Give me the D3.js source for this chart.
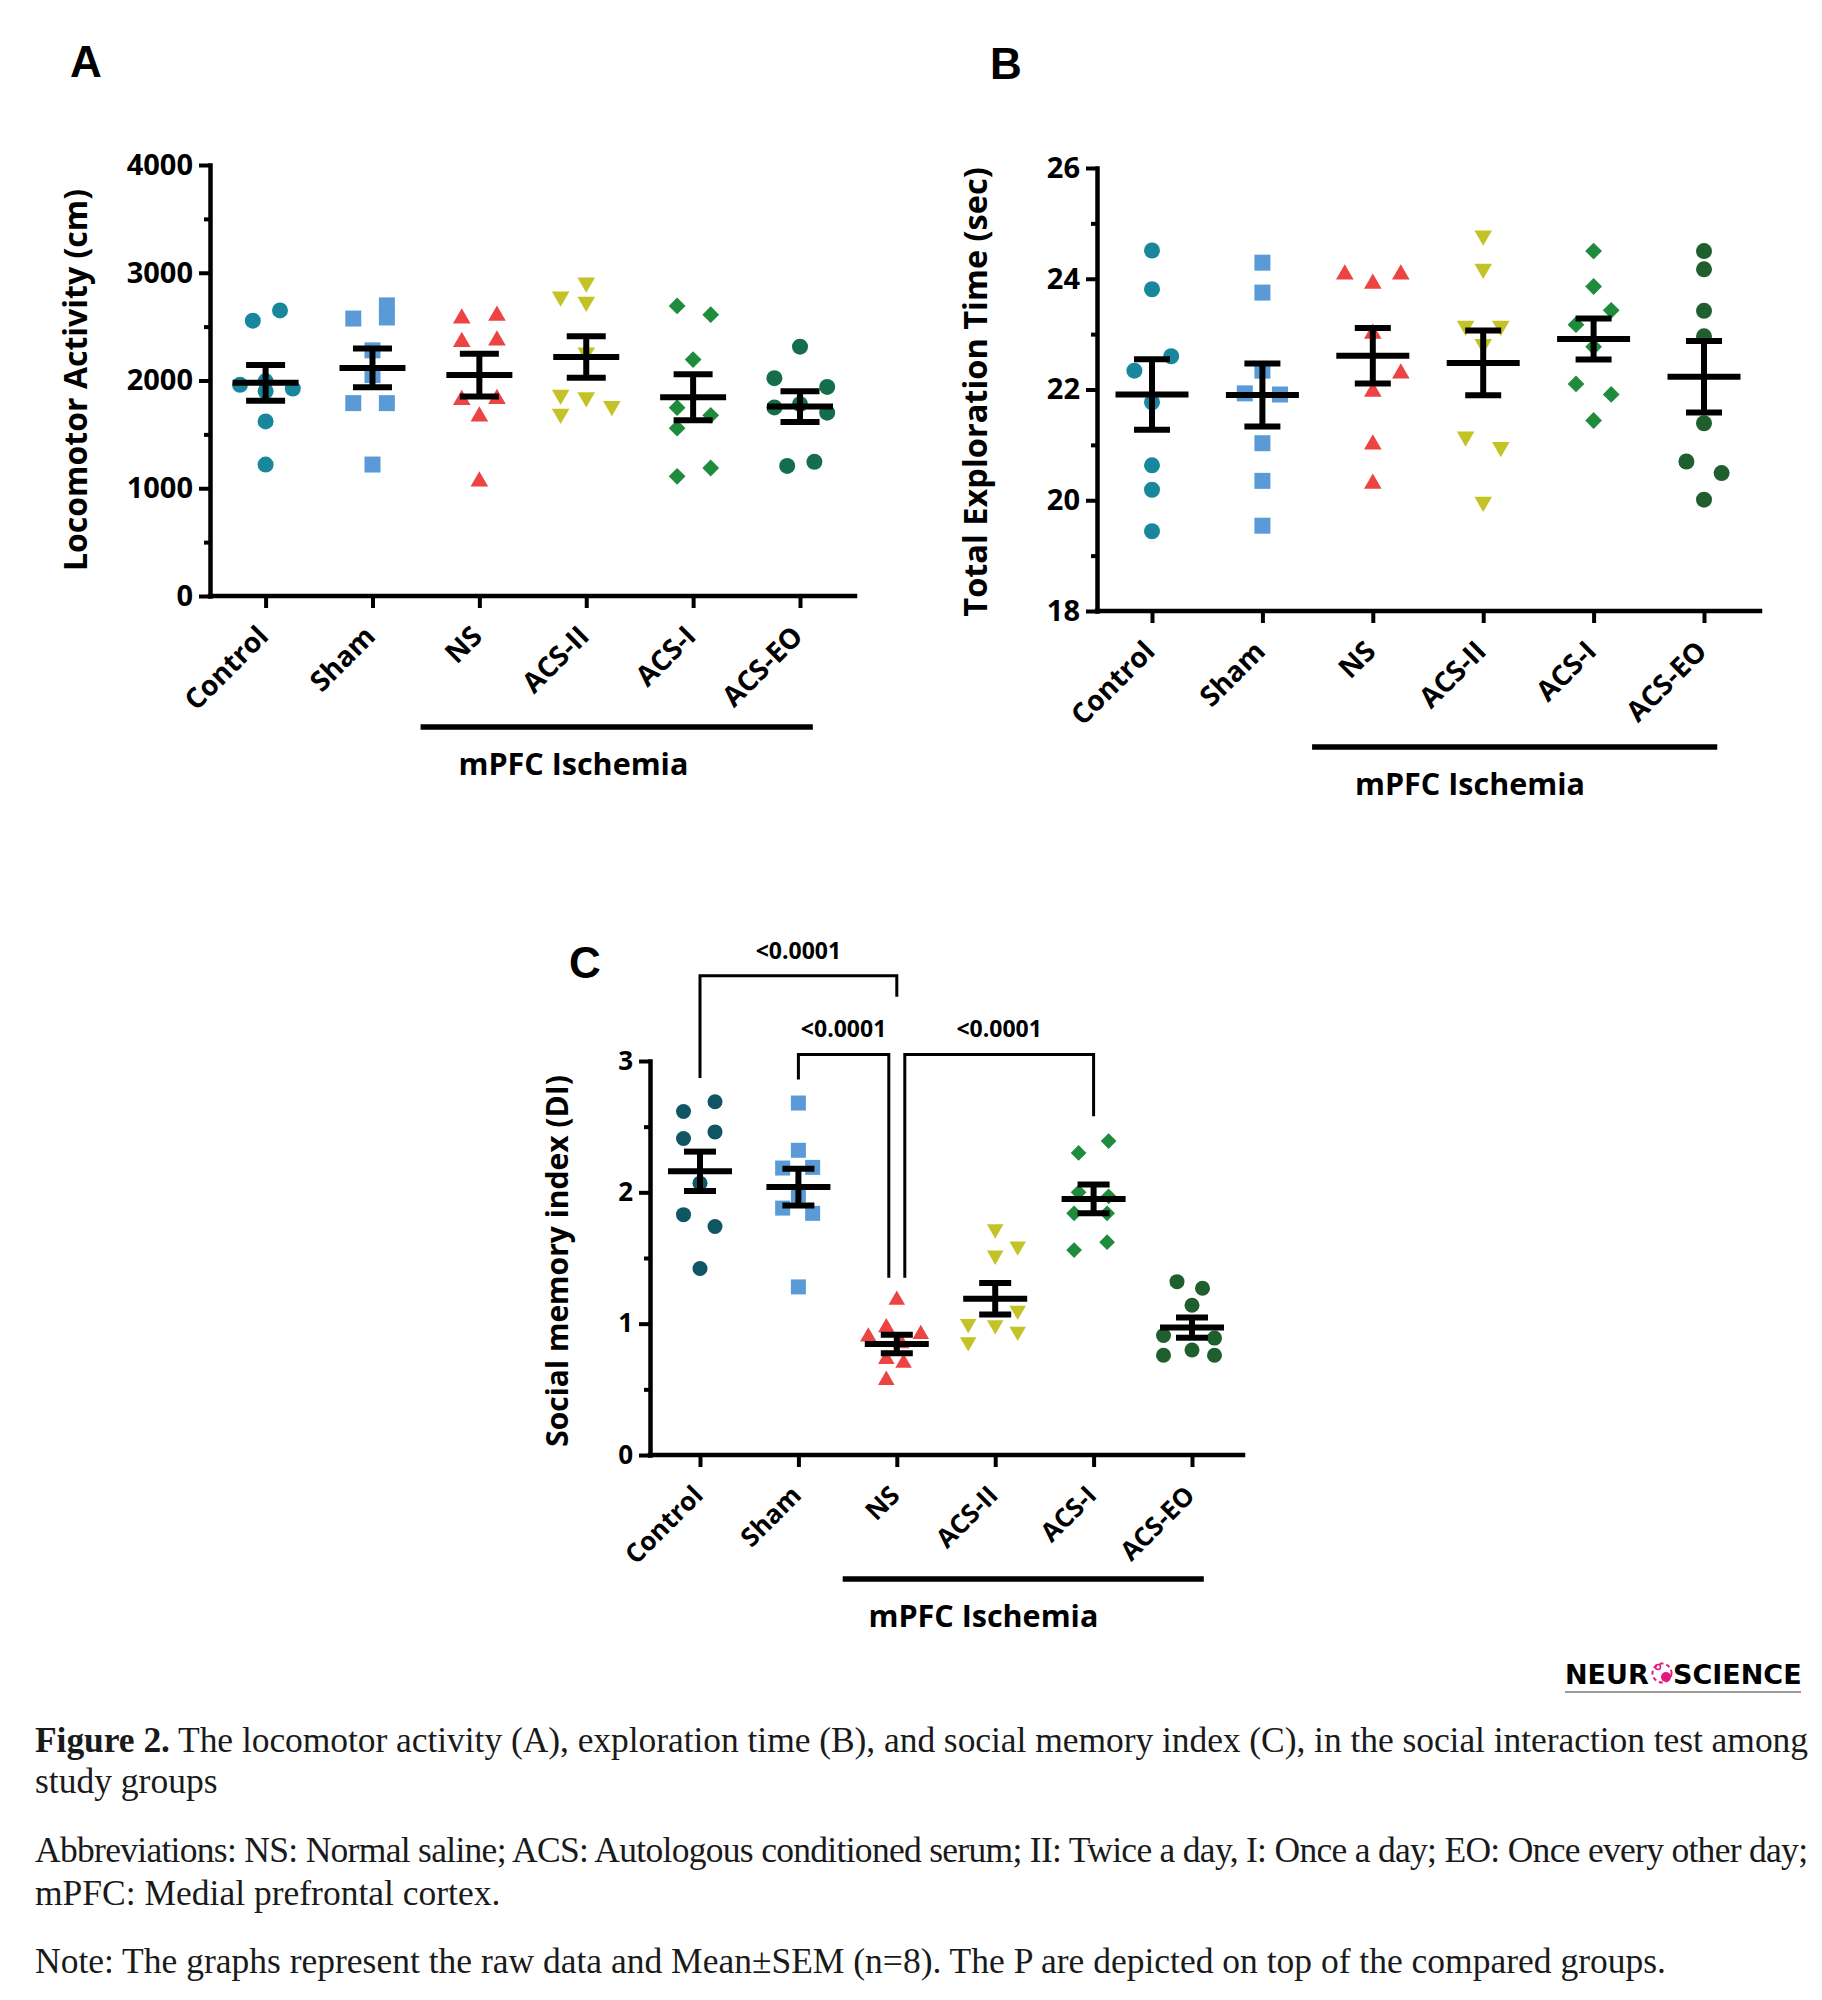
<!DOCTYPE html>
<html>
<head>
<meta charset="utf-8">
<script src="https://cdn.jsdelivr.net/npm/d3@7"></script>
<style>
  body { margin: 0; background: #fff; }
  svg { display: block; }
  .chart text { font-family: "Open Sans", sans-serif; font-weight: 700; fill: #000; }
  .letter { font-family: "Liberation Sans", Arial, sans-serif; font-weight: 700; fill: #000; }
  .caption { font-family: "Liberation Serif", serif; fill: #1a1a1a; }
</style>
</head>
<body>
<svg id="fig" width="1822" height="2000"></svg>
<script>
// groups and marker shapes (same in all three panels)
const groups = ["Control", "Sham", "NS", "ACS-II", "ACS-I", "ACS-EO"];
const markers = ["circle", "square", "triangle", "triangleDown", "diamond", "circle"];
const ischemiaGroups = ["NS", "ACS-II", "ACS-I", "ACS-EO"];

// A - locomotor activity (cm), raw points + spread (in marker widths)
const locomotorPoints = [
  [2650, 2555, 1960, 1995, 1925, 1620, 1220, 1900],
  [2697, 2585, 2575, 2280, 1790, 1790, 1220, 2050],
  [2577, 2601, 2357, 2371, 1820, 1830, 1667, 1063],
  [2778, 2908, 2730, 1868, 1844, 1690, 1763, 2260],
  [2692, 2611, 2194, 1748, 1677, 1557, 1111, 1188],
  [2314, 2022, 1940, 1750, 1701, 1780, 1207, 1245]
];
const locomotorSpread = [
  [0.9, -0.8, -1.6, 0, 1.7, 0, 0, 0],
  [0.9, 0.9, -1.2, 0, -1.2, 0.9, 0, 0],
  [-1.1, 1.1, -1.1, 1.1, -1.1, 1.1, 0, 0],
  [-1.6, 0, 0, -1.6, 0, -1.6, 1.6, 0],
  [-1, 1.1, 0, -1, 1.1, -1, -1, 1.1],
  [0, -1.6, 1.7, -1.6, 1.7, 0, -0.8, 0.9]
];
const locomotorMean = [1978, 2117, 2050, 2218, 1844, 1758];
const locomotorSem = [167, 180, 198, 192, 213, 143];
const locomotorTicks = [0, 1000, 2000, 3000, 4000];

// B - total exploration time (sec)
const explorationPoints = [
  [24.51, 23.81, 22.34, 22.60, 21.77, 20.63, 20.19, 19.44],
  [24.29, 23.75, 22.34, 21.93, 21.91, 21.03, 20.35, 19.54],
  [24.08, 23.91, 24.08, 23.01, 22.29, 21.96, 21.01, 20.30],
  [24.78, 24.18, 23.15, 23.15, 22.82, 21.15, 20.96, 19.97],
  [24.50, 23.86, 23.43, 23.17, 22.77, 22.10, 21.91, 21.44],
  [24.50, 24.17, 23.42, 22.96, 21.39, 20.70, 20.49, 20.01]
];
const explorationSpread = [
  [0, 0, -1.1, 1.2, 0, 0, 0, 0],
  [0, 0, 0, -1.1, 1.1, 0, 0, 0],
  [-1.75, 0, 1.75, 0, 1.75, 0, 0, 0],
  [0, 0, -1.1, 1.1, 0, -1.1, 1.1, 0],
  [0, 0, 1.1, -1.1, 0, -1.1, 1.1, 0],
  [0, 0, 0, 0, 0, -1.1, 1.1, 0]
];
const explorationMean = [21.91, 21.90, 22.61, 22.48, 22.91, 22.23];
const explorationSem = [0.635, 0.57, 0.50, 0.585, 0.37, 0.645];
const explorationTicks = [18, 20, 22, 24, 26];

// C - social memory index (DI)
const socialPoints = [
  [2.69, 2.615, 2.46, 2.41, 2.07, 1.83, 1.74, 1.42],
  [2.68, 2.32, 2.185, 2.19, 1.98, 1.88, 1.84, 1.28],
  [1.18, 0.97, 0.92, 0.90, 0.85, 0.73, 0.70, 0.57],
  [1.72, 1.59, 1.52, 1.10, 1.00, 0.99, 0.94, 0.86],
  [2.39, 2.30, 2.00, 1.97, 1.84, 1.84, 1.62, 1.56],
  [1.32, 1.27, 1.14, 0.91, 0.89, 0.80, 0.76, 0.76]
];
const socialSpread = [
  [1, -1.1, 1, -1.1, 0, -1.1, 1, 0],
  [0, 0, -1.05, 0.95, 0, -1.05, 0.95, 0],
  [0, -0.7, 1.6, -1.9, 0.3, -0.7, 0.45, -0.7],
  [0, 1.5, 0, 1.5, -1.8, 0, 1.5, -1.8],
  [1, -1, -1, 1, -1.3, 0.9, 0.9, -1.3],
  [-1, 0.7, 0, -1.9, 1.5, 0, -1.9, 1.5]
];
const socialMean = [2.16, 2.04, 0.845, 1.19, 1.95, 0.97];
const socialSem = [0.15, 0.14, 0.07, 0.12, 0.11, 0.077];
const socialTicks = [0, 1, 2, 3];

// pairwise comparisons shown in C (level / leg ends in DI units)
const comparisons = [
  { from: "Control", to: "NS", p: "<0.0001", level: 3.65, fromEnd: 2.87, toEnd: 3.49 },
  { from: "Sham", to: "NS", p: "<0.0001", level: 3.05, fromEnd: 2.86, toEnd: 1.35 },
  { from: "NS", to: "ACS-I", p: "<0.0001", level: 3.05, fromEnd: 1.35, toEnd: 2.58 }
];

const colorsA = ["#19879b", "#5a9bd7", "#ec4343", "#c3c328", "#1e8c3c", "#146e4b"];
const colorsB = ["#19879b", "#5a9bd7", "#ec4343", "#c3c328", "#1e8c3c", "#1e5f2d"];
const colorsC = ["#0f5564", "#5a9bd7", "#ec4343", "#c3c328", "#1e8c3c", "#1e5f2d"];

const svg = d3.select("#fig");

function markerPath(type, d) {
  if (type === "circle") return d3.symbol(d3.symbolCircle, Math.PI * d * d / 4)();
  if (type === "square") return d3.symbol(d3.symbolSquare, d * d)();
  if (type === "diamond") return d3.symbol(d3.symbolSquare, d * d * 0.55)();
  return d3.symbol(d3.symbolTriangle, 0.433 * (1.1 * d) * (1.1 * d))();
}
function markerRotate(type) {
  if (type === "triangleDown") return 180;
  if (type === "diamond") return 45;
  return 0;
}

function drawPanel(cfg) {
  const g = svg.append("g").attr("class", "chart");

  const x = d3.scalePoint().domain(groups).range([cfg.xFirst, cfg.xLast]);
  const y = d3.scaleLinear().domain(cfg.domain).range([cfg.bottom, cfg.top]);
  const step = x.step();

  // panel letter
  svg.append("text").attr("class", "letter")
    .attr("x", cfg.letterX).attr("y", cfg.letterY)
    .style("font-size", "44px").text(cfg.letter);

  // points
  const pts = [];
  cfg.points.forEach((vals, i) => vals.forEach((v, j) => pts.push({ g: groups[i], i, v, off: cfg.spread[i][j] })));
  g.append("g").selectAll("path").data(pts).join("path")
    .attr("d", d => markerPath(markers[d.i], cfg.size))
    .attr("transform", d => `translate(${x(d.g) + d.off * cfg.size},${y(d.v)}) rotate(${markerRotate(markers[d.i])})`)
    .attr("fill", d => cfg.colors[d.i]);

  // mean +/- SEM
  const eb = g.append("g").attr("stroke", "#000").attr("stroke-width", 6)
    .selectAll("g").data(groups).join("g");
  eb.append("line")
    .attr("x1", d => x(d)).attr("x2", d => x(d))
    .attr("y1", (d, i) => y(cfg.mean[i] + cfg.sem[i]))
    .attr("y2", (d, i) => y(cfg.mean[i] - cfg.sem[i]));
  eb.append("line")
    .attr("x1", d => x(d) - cfg.capHalf).attr("x2", d => x(d) + cfg.capHalf)
    .attr("y1", (d, i) => y(cfg.mean[i] + cfg.sem[i])).attr("y2", (d, i) => y(cfg.mean[i] + cfg.sem[i]));
  eb.append("line")
    .attr("x1", d => x(d) - cfg.capHalf).attr("x2", d => x(d) + cfg.capHalf)
    .attr("y1", (d, i) => y(cfg.mean[i] - cfg.sem[i])).attr("y2", (d, i) => y(cfg.mean[i] - cfg.sem[i]));
  eb.append("line")
    .attr("x1", d => x(d) - cfg.meanHalf).attr("x2", d => x(d) + cfg.meanHalf)
    .attr("y1", (d, i) => y(cfg.mean[i])).attr("y2", (d, i) => y(cfg.mean[i]));

  // y axis
  const yAxis = g.append("g").attr("transform", `translate(${cfg.left},0)`)
    .call(d3.axisLeft(y).tickValues(cfg.ticks).tickFormat(d3.format("d"))
      .tickSize(11).tickPadding(6).tickSizeOuter(0));
  yAxis.attr("font-family", null).attr("font-size", null);
  yAxis.select(".domain").attr("stroke-width", 4.5).attr("stroke-linecap", "square");
  yAxis.selectAll(".tick line").attr("stroke-width", 4);
  yAxis.selectAll("text").style("font-size", cfg.tickFont + "px");

  const minor = d3.pairs(cfg.ticks).map(p => (p[0] + p[1]) / 2);
  const yMinor = g.append("g").attr("transform", `translate(${cfg.left},0)`)
    .call(d3.axisLeft(y).tickValues(minor).tickSize(6).tickFormat(""));
  yMinor.select(".domain").remove();
  yMinor.selectAll("line").attr("stroke-width", 4);

  // x axis
  g.append("line")
    .attr("x1", cfg.left).attr("x2", cfg.right)
    .attr("y1", cfg.bottom).attr("y2", cfg.bottom)
    .attr("stroke", "#000").attr("stroke-width", 4.5).attr("stroke-linecap", "square");
  const xAxis = g.append("g").attr("transform", `translate(0,${cfg.bottom})`)
    .call(d3.axisBottom(x).tickSize(12).tickSizeOuter(0));
  xAxis.attr("font-family", null).attr("font-size", null);
  xAxis.select(".domain").remove();
  xAxis.selectAll(".tick line").attr("stroke-width", 4);
  xAxis.selectAll("text")
    .attr("x", 0).attr("y", 0).attr("dy", 0)
    .attr("text-anchor", "end")
    .attr("transform", `translate(4,42) rotate(-45)`)
    .style("font-size", cfg.catFont + "px");

  // y title
  g.append("text")
    .attr("transform", `translate(${cfg.titleX},${cfg.titleY}) rotate(-90)`)
    .attr("text-anchor", "middle")
    .style("font-size", cfg.titleFont + "px")
    .text(cfg.title);

  // mPFC ischemia grouping bar
  const first = ischemiaGroups[0], last = ischemiaGroups[ischemiaGroups.length - 1];
  g.append("line")
    .attr("x1", x(first) - 0.55 * step).attr("x2", x(last) + 0.12 * step)
    .attr("y1", cfg.bottom + cfg.barGap).attr("y2", cfg.bottom + cfg.barGap)
    .attr("stroke", "#000").attr("stroke-width", 5.5);
  g.append("text")
    .attr("x", x(first) + 0.88 * step).attr("y", cfg.bottom + cfg.barGap + 48)
    .attr("text-anchor", "middle")
    .style("font-size", "30.5px")
    .text("mPFC Ischemia");

  return { g, x, y };
}

drawPanel({
  letter: "A", letterX: 70, letterY: 77,
  points: locomotorPoints, spread: locomotorSpread, mean: locomotorMean, sem: locomotorSem,
  colors: colorsA, domain: [0, 4000], ticks: locomotorTicks,
  left: 210, right: 855, top: 165, bottom: 596, xFirst: 265.6, xLast: 800,
  size: 16, meanHalf: 33, capHalf: 19.5, tickFont: 29, catFont: 28,
  title: "Locomotor Activity (cm)", titleX: 87, titleY: 380, titleFont: 32, barGap: 131
});

drawPanel({
  letter: "B", letterX: 990, letterY: 79,
  points: explorationPoints, spread: explorationSpread, mean: explorationMean, sem: explorationSem,
  colors: colorsB, domain: [18, 26], ticks: explorationTicks,
  left: 1097, right: 1760, top: 168, bottom: 611, xFirst: 1152, xLast: 1704,
  size: 16, meanHalf: 36.5, capHalf: 18, tickFont: 29, catFont: 28,
  title: "Total Exploration Time (sec)", titleX: 987, titleY: 392, titleFont: 32.5, barGap: 136
});

const pc = drawPanel({
  letter: "C", letterX: 569, letterY: 978,
  points: socialPoints, spread: socialSpread, mean: socialMean, sem: socialSem,
  colors: colorsC, domain: [0, 3], ticks: socialTicks,
  left: 650, right: 1243, top: 1061, bottom: 1455, xFirst: 700, xLast: 1192,
  size: 15, meanHalf: 32, capHalf: 16, tickFont: 26, catFont: 26,
  title: "Social memory index (DI)", titleX: 568, titleY: 1261, titleFont: 30, barGap: 124
});

// significance brackets in C
comparisons.forEach(c => {
  const shared = comparisons.filter(o => o !== c && o.level === c.level);
  let xa = pc.x(c.from), xb = pc.x(c.to);
  shared.forEach(o => {
    if (o.to === c.from) xa += 8;
    if (o.from === c.to) xb -= 8;
  });
  const yl = pc.y(c.level);
  pc.g.append("path")
    .attr("d", `M${xa},${pc.y(c.fromEnd)}V${yl}H${xb}V${pc.y(c.toEnd)}`)
    .attr("fill", "none").attr("stroke", "#000").attr("stroke-width", 3);
  pc.g.append("text")
    .attr("x", (xa + xb) / 2).attr("y", yl - 17)
    .attr("text-anchor", "middle")
    .style("font-size", "23px")
    .text(c.p);
});

// journal logo
const logo = svg.append("g");
logo.append("text").attr("x", 1565).attr("y", 1684)
  .style("font-family", "'DejaVu Sans', sans-serif").style("font-weight", 700).style("font-size", "27px")
  .text("NEUR");
logo.append("text").attr("x", 1673).attr("y", 1684)
  .style("font-family", "'DejaVu Sans', sans-serif").style("font-weight", 700).style("font-size", "27px")
  .text("SCIENCE");
logo.append("circle").attr("cx", 1662).attr("cy", 1673).attr("r", 9.5)
  .attr("fill", "none").attr("stroke", "#e5177e").attr("stroke-width", 2).attr("stroke-dasharray", "4 3");
logo.append("circle").attr("cx", 1666).attr("cy", 1677).attr("r", 5).attr("fill", "#e5177e");
logo.append("circle").attr("cx", 1658).attr("cy", 1667).attr("r", 2.5).attr("fill", "none").attr("stroke", "#e5177e").attr("stroke-width", 1.5);
logo.append("line").attr("x1", 1565).attr("x2", 1801).attr("y1", 1692).attr("y2", 1692)
  .attr("stroke", "#9a9a9a").attr("stroke-width", 2);

// caption
const cap = svg.append("g").attr("class", "caption").style("font-size", "35.5px");
const l1 = cap.append("text").attr("x", 35).attr("y", 1752)
  .attr("textLength", 1773).attr("lengthAdjust", "spacing");
l1.append("tspan").style("font-weight", 700).text("Figure 2.");
l1.append("tspan").text(" The locomotor activity (A), exploration time (B), and social memory index (C), in the social interaction test among");
cap.append("text").attr("x", 35).attr("y", 1793).text("study groups");
cap.append("text").attr("x", 35).attr("y", 1862)
  .attr("textLength", 1773).attr("lengthAdjust", "spacing")
  .text("Abbreviations: NS: Normal saline; ACS: Autologous conditioned serum; II: Twice a day, I: Once a day; EO: Once every other day;");
cap.append("text").attr("x", 35).attr("y", 1905).text("mPFC: Medial prefrontal cortex.");
cap.append("text").attr("x", 35).attr("y", 1973)
  .text("Note: The graphs represent the raw data and Mean±SEM (n=8). The P are depicted on top of the compared groups.");
</script>
</body>
</html>
